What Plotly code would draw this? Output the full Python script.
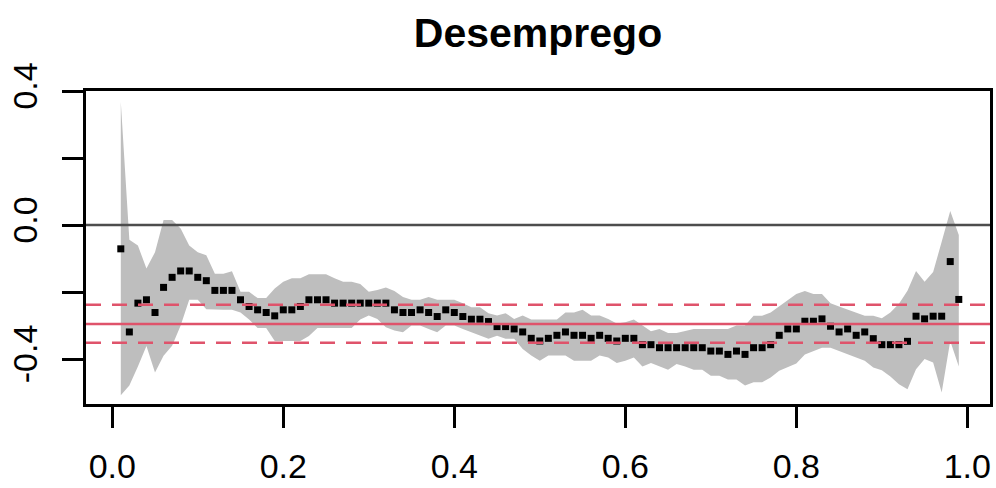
import plotly.graph_objects as go

# quantile levels
taus = [i / 100 for i in range(1, 100)]

# quantile-regression estimates for "Desemprego"
estimate = [
    -0.071, -0.319, -0.233, -0.223, -0.261, -0.186, -0.156, -0.137, -0.137, -0.156,
    -0.166, -0.195, -0.195, -0.195, -0.223, -0.243, -0.253, -0.261, -0.271, -0.253,
    -0.253, -0.243, -0.223, -0.223, -0.223, -0.233, -0.233, -0.233, -0.233, -0.233,
    -0.233, -0.233, -0.253, -0.261, -0.261, -0.253, -0.261, -0.273, -0.253, -0.261,
    -0.273, -0.281, -0.281, -0.288, -0.303, -0.303, -0.310, -0.319, -0.338, -0.346,
    -0.338, -0.329, -0.319, -0.329, -0.329, -0.338, -0.329, -0.338, -0.346, -0.338,
    -0.338, -0.357, -0.357, -0.366, -0.366, -0.366, -0.366, -0.366, -0.366, -0.376,
    -0.376, -0.386, -0.376, -0.386, -0.366, -0.366, -0.357, -0.329, -0.310, -0.310,
    -0.287, -0.287, -0.280, -0.302, -0.319, -0.310, -0.329, -0.319, -0.339, -0.357,
    -0.357, -0.357, -0.347, -0.272, -0.280, -0.272, -0.272, -0.109, -0.222,
]

upper = [
    0.367, -0.044, -0.061, -0.130, -0.081, 0.015, 0.015, -0.010, -0.061, -0.081,
    -0.090, -0.145, -0.145, -0.138, -0.199, -0.199, -0.218, -0.218, -0.189, -0.169,
    -0.159, -0.159, -0.147, -0.147, -0.147, -0.159, -0.169, -0.169, -0.176, -0.199,
    -0.194, -0.186, -0.197, -0.215, -0.223, -0.223, -0.215, -0.223, -0.223, -0.223,
    -0.233, -0.245, -0.245, -0.263, -0.270, -0.263, -0.280, -0.270, -0.282, -0.282,
    -0.282, -0.282, -0.261, -0.261, -0.253, -0.270, -0.270, -0.280, -0.294, -0.290,
    -0.282, -0.300, -0.317, -0.310, -0.322, -0.322, -0.317, -0.310, -0.310, -0.310,
    -0.310, -0.310, -0.300, -0.300, -0.271, -0.271, -0.261, -0.243, -0.223, -0.206,
    -0.197, -0.206, -0.206, -0.233, -0.243, -0.253, -0.261, -0.271, -0.271, -0.278,
    -0.261, -0.235, -0.196, -0.137, -0.169, -0.140, -0.050, 0.042, -0.030,
]

lower = [
    -0.508, -0.479, -0.422, -0.361, -0.440, -0.390, -0.360, -0.300, -0.223, -0.223,
    -0.251, -0.253, -0.253, -0.253, -0.261, -0.282, -0.307, -0.307, -0.346, -0.346,
    -0.346, -0.346, -0.331, -0.307, -0.307, -0.307, -0.307, -0.307, -0.282, -0.270,
    -0.280, -0.305, -0.315, -0.320, -0.300, -0.300, -0.310, -0.320, -0.300, -0.300,
    -0.310, -0.320, -0.330, -0.339, -0.330, -0.339, -0.339, -0.370, -0.389, -0.405,
    -0.389, -0.389, -0.389, -0.405, -0.405, -0.405, -0.389, -0.395, -0.412, -0.405,
    -0.395, -0.422, -0.412, -0.422, -0.432, -0.415, -0.422, -0.432, -0.432, -0.450,
    -0.450, -0.461, -0.461, -0.479, -0.469, -0.469, -0.455, -0.435, -0.425, -0.413,
    -0.386, -0.376, -0.366, -0.366, -0.376, -0.386, -0.395, -0.405, -0.425, -0.433,
    -0.452, -0.475, -0.490, -0.430, -0.400, -0.410, -0.500, -0.346, -0.422,
]

# OLS estimate and its confidence bounds
ols_coef = -0.295
ols_low = -0.351
ols_high = -0.238

x_ticks = [0.0, 0.2, 0.4, 0.6, 0.8, 1.0]
x_labels = ["0.0", "0.2", "0.4", "0.6", "0.8", "1.0"]
y_ticks = [-0.4, -0.2, 0.0, 0.2, 0.4]
y_labels = ["-0.4", "", "0.0", "", "0.4"]

title_text = "Desemprego"

FONT = "Liberation Sans, Arial, sans-serif"
GREY = "#BEBEBE"
RED = "#DF536B"

fig = go.Figure()

fig.add_trace(go.Scatter(x=taus, y=lower, mode="lines", line=dict(width=0, color=GREY),
                         hoverinfo="skip", showlegend=False))
fig.add_trace(go.Scatter(x=taus, y=upper, mode="lines", line=dict(width=0, color=GREY),
                         fill="tonexty", fillcolor=GREY, hoverinfo="skip", showlegend=False))
fig.add_trace(go.Scatter(x=taus, y=estimate, mode="markers",
                         marker=dict(symbol="square", size=7, color="black", line=dict(width=0)),
                         showlegend=False))

fig.add_hline(y=0, line=dict(color="#4D4D4D", width=2.5))
fig.add_hline(y=ols_coef, line=dict(color=RED, width=2.5))
fig.add_hline(y=ols_low, line=dict(color=RED, width=2.5, dash="15px,11px"))
fig.add_hline(y=ols_high, line=dict(color=RED, width=2.5, dash="15px,11px"))

fig.update_layout(
    width=996, height=488,
    margin=dict(l=86, r=3, t=91, b=83),
    paper_bgcolor="white", plot_bgcolor="white",
    font=dict(family=FONT, size=34, color="black"),
    title=dict(text=title_text, x=0.5, xref="paper", xanchor="center",
               y=1 - 33 / 488, yref="container", yanchor="middle",
               font=dict(family=FONT, size=41, color="black", weight="bold")),
    xaxis=dict(range=[-0.0307, 1.0265], tickvals=x_ticks, ticktext=x_labels,
               ticks="outside", ticklen=21, tickwidth=3, tickcolor="black",
               showline=True, linewidth=3, linecolor="black", mirror=True,
               showgrid=False, zeroline=False, ticklabelstandoff=9),
    yaxis=dict(range=[-0.534, 0.40], tickvals=y_ticks, ticktext=y_labels,
               ticks="outside", ticklen=21, tickwidth=3, tickcolor="black",
               showline=True, linewidth=3, linecolor="black", mirror=True,
               showgrid=False, zeroline=False, tickangle=-90, ticklabelstandoff=11),
)

fig.write_html("out.html")
